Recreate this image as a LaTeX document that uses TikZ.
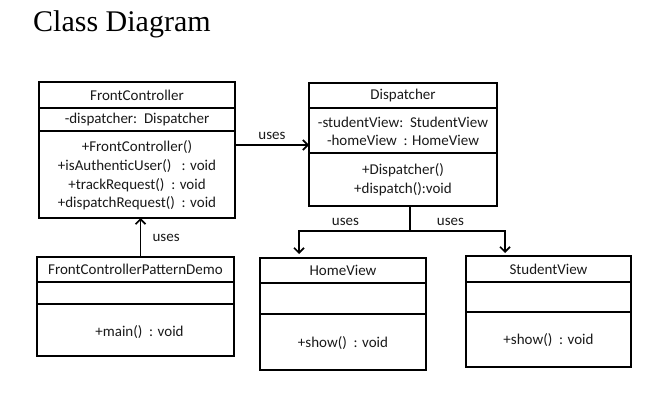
\documentclass[tikz,border=0pt]{standalone}
\usepackage{fontspec}
\setmainfont{Carlito}
\newfontfamily\titlefont{Liberation Serif}
\usetikzlibrary{arrows.meta,calc}

\tikzset{
    classpart/.style={draw, line width=1.3pt, anchor=north west, outer sep=0pt, inner sep=0pt,
        align=center, text=black!90, font=\fontsize{15}{18.7}\selectfont},
    uses/.style={line width=1.5pt, -{Straight Barb[length=5pt,width=10pt,line width=1.7pt]}},
    useslabel/.style={text=black!90, font=\fontsize{15}{18.7}\selectfont}
}

\begin{document}
\begin{tikzpicture}[x=1pt,y=-1pt]
    \useasboundingbox (0,0) rectangle (654,412);

    \node[anchor=base west, inner sep=0pt, font=\titlefont\fontsize{30}{30}\selectfont] (title) at (33,32) {Class Diagram};

    % id / left / top / width / title, attribute and method heights / class name
    \foreach \id/\x/\y/\w/\ha/\hb/\hc/\name in {fc/39/82/196/26/23/87/FrontController,
            disp/309/83/188/25/45/53/Dispatcher,
            demo/37/257/197/25/22/52/FrontControllerPatternDemo,
            hv/260/258/166/25/31/56/HomeView,
            sv/466/256/165/26/30/55/StudentView} {
        \node[classpart, minimum width=\w pt, minimum height=\ha pt] (\id-title) at (\x,\y) {\name};
        \node[classpart, minimum width=\w pt, minimum height=\hb pt] (\id-attr) at (\id-title.south west) {};
        \node[classpart, minimum width=\w pt, minimum height=\hc pt] (\id-meth) at (\id-attr.south west) {};
    }

    % members
    \node[useslabel] (fc-attr-txt) at (fc-attr) {-dispatcher:\ \ Dispatcher};
    \node[useslabel, align=center] (fc-meth-txt) at ([yshift=-1pt]fc-meth) {+FrontController()\\+isAuthenticUser()\ \ \ : void\\+trackRequest()\ \ : void\\+dispatchRequest()\ \ : void};
    \node[useslabel, align=center] (disp-attr-txt) at ([yshift=-1pt]disp-attr) {-studentView:\ \ StudentView\\-homeView\ \ : HomeView};
    \node[useslabel, align=center] (disp-meth-txt) at (disp-meth) {+Dispatcher()\\+dispatch():void};
    \node[useslabel] (demo-meth-txt) at ([xshift=4pt,yshift=-2pt]demo-meth) {+main()\ \ : void};
    \node[useslabel] (hv-meth-txt) at ([yshift=-1pt]hv-meth) {+show()\ \ : void};
    \node[useslabel] (sv-meth-txt) at ([yshift=-1pt]sv-meth) {+show()\ \ : void};

    % connectors
    \draw[uses] ([yshift=-14pt]fc-meth.north east) -- ([yshift=-14pt]fc-meth.north east -| disp-attr.west)
        node[useslabel, midway, above=1pt] {uses};
    \draw[uses] ([xshift=5pt]demo-title.north) -- ([xshift=5pt]demo-title.north |- fc-meth.south)
        node[useslabel, midway, right=8pt] {uses};

    \coordinate (split) at ([xshift=7pt,yshift=-25pt]disp-meth.south);
    \draw[line width=1.5pt] ([xshift=7pt]disp-meth.south) -- (split);
    \draw[uses] (split) -| ([xshift=-44pt,yshift=4pt]hv-title.north)
        node[useslabel, pos=0.25, above=1pt, xshift=-9pt] {uses};
    \draw[uses] (split) -| ([xshift=-43.5pt,yshift=3pt]sv-title.north)
        node[useslabel, pos=0.25, above=1pt, xshift=-7pt] {uses};
\end{tikzpicture}
\end{document}
